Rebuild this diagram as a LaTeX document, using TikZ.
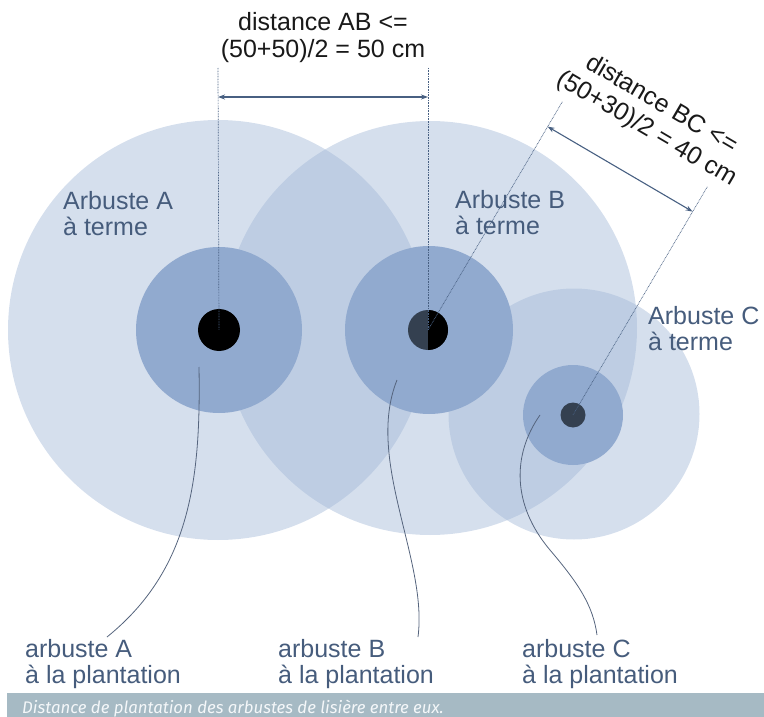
\documentclass[tikz,border=0pt]{standalone}
\usepackage{fontspec}
\setmainfont{Liberation Sans}
\newfontfamily\capfont{Fira Sans}
\usetikzlibrary{arrows.meta,calc}
\definecolor{lightfill}{RGB}{162,184,215}
\definecolor{midfill}{RGB}{145,170,207}
\definecolor{labelcol}{RGB}{70,92,124}
\definecolor{dimtext}{RGB}{25,25,25}
\definecolor{dimline}{RGB}{72,96,130}
\definecolor{leadcol}{RGB}{85,100,125}
\definecolor{capbar}{RGB}{166,186,196}
\definecolor{captext}{RGB}{244,247,249}
\definecolor{dotgray}{RGB}{52,64,80}
\begin{document}
\begin{tikzpicture}[x=1pt,y=-1pt,
  big/.style={circle,inner sep=0,fill=lightfill,fill opacity=0.45,minimum size=#1},
  mid/.style={circle,inner sep=0,fill=midfill,minimum size=#1},
  dotnode/.style={circle,inner sep=0,minimum size=#1},
  lbl/.style={font=\fontsize{25}{26}\selectfont,text=labelcol,align=left,anchor=base west,inner sep=0},
  dimtxt/.style={font=\fontsize{25}{27}\selectfont,text=dimtext,align=center,inner sep=0},
  ext/.style={draw=dimline,line width=0.7pt,dash pattern=on 0.8pt off 0.8pt},
  dimarrow/.style={draw=dimline,line width=1.1pt,{Stealth[length=7pt,width=5pt]}-{Stealth[length=7pt,width=5pt]}},
  leader/.style={draw=leadcol,line width=0.8pt}]
\useasboundingbox (0,0) rectangle (764,717);
% large (at maturity) crowns
\node[big=420pt] (bigA) at (218,330) {};
\node[big=414pt] (bigB) at (430,328) {};
\node[big=251pt] (bigC) at (574,414) {};
% medium crowns
\node[mid=166pt] (midA) at (219,330) {};
\node[mid=168pt] (midB) at (429,330) {};
\node[mid=100pt] (midC) at (573,415) {};
% dots
\node[dotnode=42pt,fill=black] (dotA) at (219,330) {};
\node[dotnode=40pt,fill=dotgray] (dotB) at (428,330) {};
\begin{scope}
  \clip (428,300) rectangle (460,360);
  \fill[black] (dotB.center) circle[radius=20];
\end{scope}
\node[dotnode=25pt,fill=dotgray] (dotC) at (573,415) {};
% labels at maturity (anchor = baseline of last line)
\node[lbl] (labA) at (63,235) {Arbuste A\\à terme};
\node[lbl] (labB) at (455,234) {Arbuste B\\à terme};
\node[lbl] (labC) at (648,350) {Arbuste C\\à terme};
% labels at planting
\node[lbl] (plA) at (25,683) {arbuste A\\à la plantation};
\node[lbl] (plB) at (278,683) {arbuste B\\à la plantation};
\node[lbl] (plC) at (522,683) {arbuste C\\à la plantation};
% leader lines
\coordinate (sA) at (199,367);
\coordinate (eA) at (107,637);
\coordinate (sB) at (397,380);
\coordinate (eB) at (418,637);
\coordinate (sC) at (540,415);
\coordinate (eC) at (597,635);
\draw[leader] (sA) .. controls (201,480) and (190,570) .. (eA);
\draw[leader] (sB) .. controls (365,460) and (428,560) .. (eB);
\draw[leader] (sC) .. controls (512,455) and (512,505) .. (550,550) .. controls (578,583) and (593,605) .. (eC);
% dimension AB
\coordinate (xA) at (218,68);
\coordinate (xB) at (428,68);
\coordinate (aA) at (218,97);
\coordinate (aB) at (428,97);
\draw[ext] (xA) -- (dotA.center);
\draw[ext] (xB) -- (dotB.center);
\draw[dimarrow] (aA) -- (aB);
\node[dimtxt,anchor=base] (dAB) at (323,58) {distance AB <=\\(50+50)/2 = 50 cm};
% dimension BC
\coordinate (yB) at (562.4,101.6);
\coordinate (bB) at (547.6,126.6);
\coordinate (bC) at (692.6,211.6);
\coordinate (yC) at (707.4,186.6);
\draw[ext] (dotB.center) -- (yB);
\draw[ext] (dotC.center) -- (yC);
\draw[dimarrow] (bB) -- (bC);
\node[dimtxt,font=\fontsize{25}{28.5}\selectfont,rotate=-30.4] (dBC) at (654,117) {distance BC <=\\(50+30)/2 = 40 cm};
% caption
\node[fill=capbar,inner sep=0,minimum width=757pt,minimum height=24pt,anchor=north west] (capbox) at (7,693) {};
\node[anchor=base west,inner sep=0,text=captext,font=\capfont\itshape\fontsize{16.8}{18}\selectfont] (captxt) at (22,713) {Distance de plantation des arbustes de lisière entre eux.};
\end{tikzpicture}
\end{document}
